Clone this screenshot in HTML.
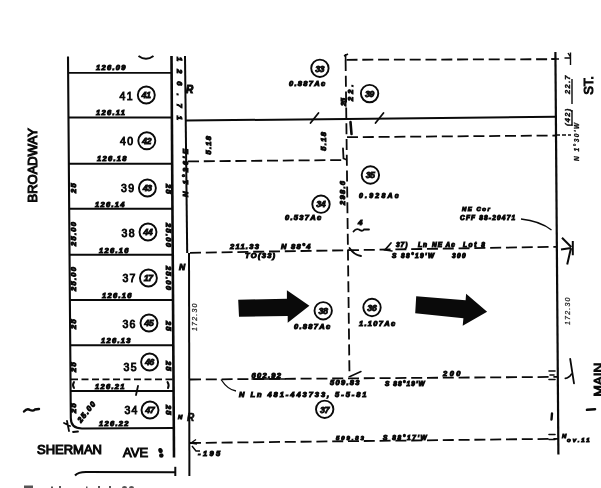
<!DOCTYPE html>
<html><head><meta charset="utf-8">
<style>
html,body{margin:0;padding:0;background:#fff;width:601px;height:488px;overflow:hidden}
svg{display:block;filter:blur(0.35px)}
text{font-family:"Liberation Sans",sans-serif;fill:#0a0a0a}
.lot{font-size:10.5px;stroke:#0a0a0a;stroke-width:0.9;letter-spacing:1.3px}
.st{font-size:13px;stroke:#0a0a0a;stroke-width:1.05}
.h{font-size:7.5px;font-weight:bold;font-style:italic;stroke:#0a0a0a;stroke-width:1.05;letter-spacing:1.3px}
.hs{font-size:6px;font-weight:bold;font-style:italic;stroke:#0a0a0a;stroke-width:0.5}
.hl{font-size:7px;font-style:italic;stroke:#333;stroke-width:0.25;letter-spacing:1.2px;fill:#333}
.c{font-size:9px;font-weight:bold;font-style:italic;stroke:#0a0a0a;stroke-width:0.8;letter-spacing:-0.6px}
</style></head><body>
<svg width="601" height="488" viewBox="0 0 601 488">
<rect width="601" height="488" fill="#fff"/>
<g stroke="#0a0a0a" fill="none" stroke-linecap="butt">
  <!-- left block verticals -->
  <path d="M68 56.5 L70.8 418 Q70.8 428.5 82 428.5" stroke-width="2.1"/>
  <path d="M171.5 56 L174 457.5" stroke-width="2.6"/>
  <path d="M175.3 466.8 V476" stroke-width="2"/>
  <path d="M185 56 L187.2 253" stroke-width="2"/>
  <path d="M189 253 L189.4 476" stroke-width="2"/>
  <!-- lot lines -->
  <g stroke-width="1.9">
    <path d="M68 72.9 H172"/>
    <path d="M69 117.5 H172"/>
    <path d="M69 163.8 H172.5"/>
    <path d="M70 208.7 H172.5"/>
    <path d="M70 254.7 H173"/>
    <path d="M70 300 H173"/>
    <path d="M70.5 345.3 H173"/>
    <path d="M71 391 H173"/>
    <path d="M82 428.5 L173.5 428"/>
  </g>
  <path d="M71 379.4 H173" stroke-width="1.6" stroke-dasharray="7 3.5"/>
  <!-- top arc of lot 42 -->
  <path d="M138.5 56 Q146 61.5 153.5 56" stroke-width="2"/>
  <!-- big solid horizontal -->
  <path d="M186 120.6 L556 116.8" stroke-width="2"/>
  <!-- right vertical -->
  <path d="M555.4 52 L558.4 454.5" stroke-width="2.2"/>
  <!-- dashed lines -->
  <g stroke-width="1.8" stroke-dasharray="11 4.8">
    <path d="M346.5 59.8 L556 59.2"/>
    <path d="M345.6 60 L349.5 377"/>
    <path d="M347 137.2 L556 135.5"/>
    <path d="M188 161.4 L346 160"/>
    <path d="M190 252.8 L557 246.8"/>
    <path d="M190 379.5 L558 376.9"/>
    <path d="M190 443 L558 438.8"/>
  </g>
  <path d="M345.6 54 V60 M344 56 L348 54" stroke-width="1.6"/>
  <!-- bottom curve line -->
  <path d="M75 475.5 Q78 472 86 472 L175 472.3" stroke-width="2"/>
  <!-- leader curves -->
  <path d="M221 379.5 Q228 390 236 391" stroke-width="1.3"/>
  <path d="M521 219 Q540 221 551.5 230" stroke-width="1.3"/>
  <path d="M572.8 240.9 V255.2 M562 237.8 L571.2 247 M561 249.6 L571 248 M571 248 L567.2 264.4" stroke-width="2"/>
  <!-- circles -->
  <g stroke-width="1.9">
    <circle cx="146.3" cy="95" r="8.5"/>
    <circle cx="146.8" cy="140.8" r="8.5"/>
    <circle cx="147.4" cy="188" r="8.5"/>
    <circle cx="148" cy="232" r="8.5"/>
    <circle cx="148.4" cy="278" r="8.5"/>
    <circle cx="149" cy="323" r="8.5"/>
    <circle cx="149.6" cy="362" r="8.5"/>
    <circle cx="150" cy="410" r="8.5"/>
    <circle cx="319.9" cy="68.3" r="8.7"/>
    <circle cx="369.6" cy="93.6" r="8.7"/>
    <circle cx="370.4" cy="175" r="8.7"/>
    <circle cx="321" cy="204.2" r="8.7"/>
    <circle cx="372" cy="307.5" r="8.7"/>
    <circle cx="324.7" cy="409.3" r="8.7"/>
    <circle cx="323.2" cy="310.8" r="8.7"/>
  </g>
</g>
<!-- arrows -->
<path d="M238.2 299.8 L286.9 298.7 L286.9 290.2 L309.4 305.8 L287.7 322.7 L287.7 315.9 L239 316.7 Z" fill="#0a0a0a"/>
<path d="M416.2 296.2 L465.6 300.2 L466.1 293.8 L487.1 311.7 L462.7 325.7 L463.4 318.2 L415.2 313.2 Z" fill="#0a0a0a"/>
<!-- lot numbers -->
<g class="lot">
  <text x="119.5" y="99.5">41</text>
  <text x="120" y="144.5">40</text>
  <text x="121" y="192">39</text>
  <text x="121.6" y="237">38</text>
  <text x="122.4" y="282">37</text>
  <text x="122.4" y="328">36</text>
  <text x="123.6" y="371">35</text>
  <text x="124.4" y="414">34</text>
</g>
<!-- circle labels -->
<g class="c" text-anchor="middle">
  <text x="146.0" y="98.2">41</text>
  <text x="146.5" y="144.0">42</text>
  <text x="147.1" y="191.2">43</text>
  <text x="147.7" y="235.2">44</text>
  <text x="148.1" y="281.2">17</text>
  <text x="148.7" y="326.2">45</text>
  <text x="149.3" y="365.2">46</text>
  <text x="149.7" y="413.2">47</text>
  <text x="319.6" y="71.5">33</text>
  <text x="369.3" y="96.8">39</text>
  <text x="370.1" y="178.2">35</text>
  <text x="320.7" y="207.4">34</text>
  <text x="371.7" y="310.7">36</text>
  <text x="324.4" y="412.5">37</text>
  <text x="322.9" y="314.0">38</text>
</g>
<!-- street names -->
<text class="st" x="37" y="454.4">SHERMAN</text>
<text class="st" x="123" y="456.8">AVE</text>
<text class="st" transform="translate(37.2,202.5) rotate(-90)">BROADWAY</text>
<text class="st" transform="translate(592.8,94.8) rotate(-90)">ST.</text>
<text class="st" transform="translate(602.7,396.5) rotate(-90)" style="font-size:13.5px">MAIN</text>
<!-- handwritten dims -->
<g class="h">
  <text x="96" y="70">126.09</text>
  <text x="96" y="115">126.11</text>
  <text x="97" y="161">126.18</text>
  <text x="95" y="207">126.14</text>
  <text x="99" y="252.5">126.16</text>
  <text x="102" y="298">126.16</text>
  <text x="101" y="343">126.13</text>
  <text x="95" y="389">126.21</text>
  <text x="99" y="426">126.22</text>
  <text x="289" y="86">0.887Ac</text>
  <text x="285" y="220">0.537Ac</text>
  <text x="359" y="198" style="font-size:7px;letter-spacing:2.2px">0.928Ac</text>
  <text x="359" y="326">1.107Ac</text>
  <text x="294" y="329">0.887Ac</text>
  <text x="230" y="249">211.33</text>
  <text x="245" y="258">TO(33)</text>
  <text x="281" y="249">N 88°4</text>
  <text x="251.5" y="377.5">602.92</text>
  <text x="239" y="396.5" style="letter-spacing:1.95px">N Ln 481-443733, 5-5-81</text>
  <text x="330" y="385">509.83</text>
  <text x="385" y="386" style="font-size:6.5px;letter-spacing:1.1px">S 88°19'W</text>
  <text x="443" y="376" style="letter-spacing:2.5px">200</text>
  <text x="336" y="439.5" style="font-size:6px;letter-spacing:1.9px">509.83</text>
  <text x="383" y="439.5" style="font-size:6.5px;letter-spacing:1.6px">S 88°17'W</text>
  <text x="198" y="455.5" style="letter-spacing:2.4px">-195</text>
  <text x="396" y="247" style="font-size:6.5px;letter-spacing:1px">37)</text>
  <text x="418" y="247" style="font-size:6.5px;letter-spacing:1px">Ln</text>
  <text x="432" y="247" style="font-size:6.5px;letter-spacing:1px">NE Ac</text>
  <text x="463" y="247" style="font-size:6.5px;letter-spacing:1.6px">Lot 8</text>
  <text x="392" y="257.5" style="font-size:6.5px;letter-spacing:1.4px">S 88°19'W</text>
  <text x="452" y="257.5" style="font-size:6.5px;letter-spacing:1.4px">300</text>
  <text x="462" y="211" style="font-size:6px;letter-spacing:1.5px">NE Cor</text>
  <text x="460" y="220" style="font-size:6.5px;letter-spacing:1.2px">CFF 88-20471</text>
</g>
<!-- rotated handwriting -->
<g class="h">
  <text transform="translate(211,154.5) rotate(-90)">5.18</text>
  <text transform="translate(326,150.7) rotate(-90)">5.18</text>
  <text transform="translate(345,205) rotate(-90)">298.6</text>
  
  
</g>

<!-- lot side labels & strip marks -->
<g class="h">
  <text transform="translate(76,193) rotate(-90)">25</text>
  <text transform="translate(76,246) rotate(-90)">25.00</text>
  <text transform="translate(76,291) rotate(-90)">25.00</text>
  <text transform="translate(76,329) rotate(-90)">25</text>
  <text transform="translate(76,372) rotate(-90)">25</text>
  <text transform="translate(76,413) rotate(-90)">25</text>
  <text transform="translate(166,184) rotate(90)">25</text>
  <text transform="translate(166,223) rotate(90)">25.00</text>
  <text transform="translate(166,266) rotate(90)">25.00</text>
  <text transform="translate(166,321) rotate(90)">25</text>
  <text transform="translate(166,361) rotate(90)">25</text>
  <text transform="translate(166,405) rotate(90)">25</text>
  <text transform="translate(81,423) rotate(-52)">25.00</text>
  <text transform="translate(177,57) rotate(90)" style="letter-spacing:8px">126.71</text>
  <text transform="translate(187.5,197) rotate(-90)" style="letter-spacing:2.6px">N 1°26'E</text>
  <text x="179" y="270" style="font-size:8.5px">N</text>
  <text x="186" y="93" style="font-size:10px">R</text>
  <text x="187" y="421" style="font-size:10px;stroke-width:0.6">R</text>
  <text x="178" y="419" style="font-size:6px">N</text>
  <text x="358" y="225" style="font-size:8px">4</text>
  
  
</g>
<g class="h">
  <text transform="translate(570,94) rotate(-90)" style="stroke-width:0.4">22.7</text>
  <text transform="translate(570,126) rotate(-90)" style="stroke-width:0.4">(42)</text>
  <text transform="translate(579,161) rotate(-90)" style="stroke-width:0.3;font-size:6.5px;letter-spacing:1.5px">N 1°30'W</text>
</g>
<g stroke="#0a0a0a" fill="none" stroke-width="1.4">
  <path d="M572 79 V104 M572 110 V126 M570.5 52.5 V65 M568 53 L570.5 57 M564.5 58 H570.5 M551 59 H559"/>
  <path d="M556 135 H571" stroke-dasharray="4 2" stroke-width="1.6"/>
</g>
<g fill="#0a0a0a">
  <ellipse cx="160.5" cy="450.5" rx="2.2" ry="2.6" transform="rotate(-20 160.5 450.5)"/>
  <ellipse cx="161.3" cy="455.5" rx="2.3" ry="2.3"/>
</g>
<g stroke="#0a0a0a" fill="none" stroke-width="1.8">
  <path d="M196 439.5 L191 443 L197 444 M192 446 L196 451 H200" stroke-width="1.4"/>
</g>
<g stroke="#0a0a0a" fill="none" stroke-width="1.8" stroke-linecap="round">
  <path d="M310.5 123 L318.5 113 M375.5 123 L383.5 113"/>
  <path d="M343 148.5 L343.5 158.5 L346 159.5"/>
  <path d="M349.5 248 Q354 255 361 256"/>
  <path d="M350.5 122 L351.5 134" stroke-width="2.6"/>
</g>
<g class="h">
  <text transform="translate(345.5,106) rotate(-90)" style="letter-spacing:-0.3px">25</text>
  <text transform="translate(353,101) rotate(-90)" style="letter-spacing:3px">22.</text>
</g>
<g stroke="#0a0a0a" fill="none" stroke-width="1.8" stroke-linecap="round">
  <path d="M353.5 231.5 Q356 228 359 229.5 Q362 232 364 229.5 L369 229.5"/>
</g>
<g stroke="#0a0a0a" fill="none" stroke-width="1.7" stroke-linecap="round">
  <path d="M391 243 L385 250 L392 251"/>
</g>
<g stroke="#0a0a0a" fill="none" stroke-width="1.5" stroke-linecap="round">
  <path d="M350 376.5 L361 371.5 M252 379 H285"/>
</g>
<g fill="#555">
  <rect x="24" y="485.5" width="9" height="2.5"/>
  <rect x="51" y="486.5" width="2" height="1.5"/>
  <rect x="59" y="486" width="2" height="2"/>
  <rect x="86" y="486.5" width="1.5" height="1.5"/>
  <rect x="98" y="486" width="2" height="2"/>
  <rect x="109" y="486" width="2" height="2"/>
  <ellipse cx="124.5" cy="488" rx="2.5" ry="2"/>
  <ellipse cx="131.5" cy="488" rx="2.5" ry="2"/>
</g>
<g class="hl">
  <text transform="translate(197,331) rotate(-90)">172.30</text>
  <text transform="translate(570,325) rotate(-90)">172.30</text>
</g>
<g stroke="#0a0a0a" fill="none" stroke-width="2.4" stroke-linecap="round">
  <path d="M24 411.5 Q27 408 30 410 Q33 411.5 35 409.5 L39 409"/>
</g>
<g stroke="#0a0a0a" fill="none" stroke-width="1.6" stroke-linecap="round">
  <path d="M549 371 H555 M549 379.5 H555 M550 375 H554"/>
  <path d="M570.2 359 L574 383.3" stroke-width="1.8"/>
  <path d="M565.3 378.4 Q569 378 571.5 374" />
  <path d="M549 434.5 H555 M549 439.5 H555"/>
  <path d="M552 413.5 L551.5 419.5" stroke-width="2.4"/>
  <path d="M587 409.8 L595 409.2" stroke-width="2.6"/>
</g>
<g class="h">
  <text x="562" y="438" style="font-size:6px;letter-spacing:1px">N</text>
  <text x="567" y="442" style="font-size:6px;letter-spacing:2px">ov.11</text>
</g>
<g stroke="#0a0a0a" fill="none" stroke-width="1.8" stroke-linecap="round">
  <path d="M138 386 L136 395"/>
  <path d="M64 423 L70 426 M67 421 L69 431 M73 432 L78 431.5"/>
</g>
<g stroke="#0a0a0a" fill="none" stroke-width="2" stroke-linecap="round">
  <path d="M167.5 382 Q169.5 385 168 388"/>
  <path d="M74 382 Q72 385 74 388"/>
</g>
</svg>
</body></html>
